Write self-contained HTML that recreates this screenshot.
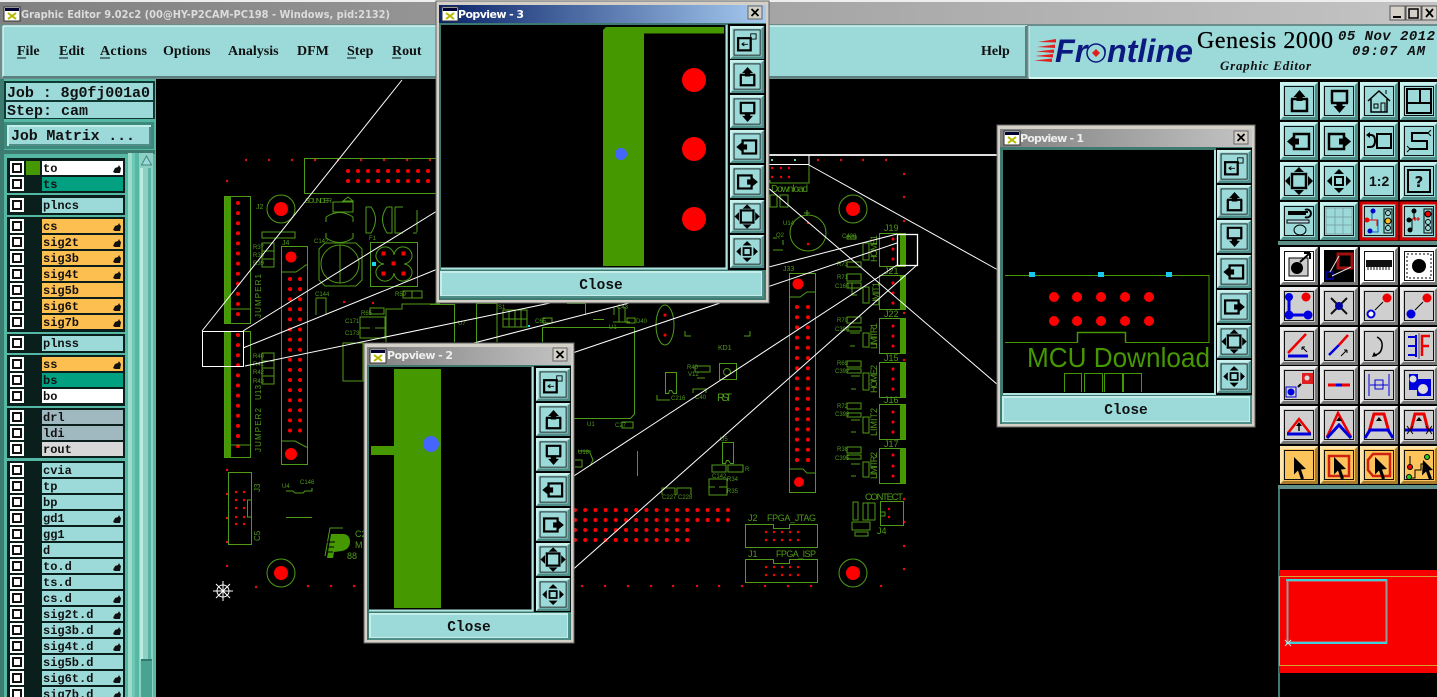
<!DOCTYPE html>
<html><head><meta charset="utf-8"><title>Graphic Editor</title>
<style>
html,body{margin:0;padding:0;background:#000;overflow:hidden;width:1437px;height:697px}
svg{display:block}
.m{font:bold 14px "Liberation Serif",serif;fill:#111}
.l{font:bold 12px "Liberation Mono",monospace;fill:#111}
.j{font:bold 15px "Liberation Mono",monospace;fill:#111}
.c{font:bold 14.5px "Liberation Mono",monospace;fill:#111}
.t{font:bold 11px "DejaVu Sans",sans-serif}
.g{font:8px "Liberation Sans",sans-serif;fill:#4f9a18}
.o{fill:none;stroke:#4f9a18;stroke-width:1}
</style></head><body>
<svg width="1437" height="697" viewBox="0 0 1437 697" xmlns="http://www.w3.org/2000/svg">
<defs>
<linearGradient id="tg" x1="0" x2="1" y1="0" y2="0"><stop offset="0" stop-color="#808080"/><stop offset="1" stop-color="#c4c4c4"/></linearGradient>
<linearGradient id="tb" x1="0" x2="1" y1="0" y2="0"><stop offset="0" stop-color="#0a246a"/><stop offset="1" stop-color="#a6caf0"/></linearGradient>
<g id="bt"><rect width="38" height="38" fill="#4f8d88"/><path d="M0 0H38L35 3H3V35L0 38Z" fill="#c9f2ee"/><rect x="3" y="3" width="32" height="32" fill="#9cdada"/><rect x="4.500" y="4.500" width="29" height="29" fill="none" stroke="#111"/></g>
<g id="gb"><rect width="38" height="38" fill="#777"/><path d="M0 0H38L35 3H3V35L0 38Z" fill="#eee"/><rect x="3" y="3" width="32" height="32" fill="#cfcfcf"/><rect x="4.500" y="4.500" width="29" height="29" fill="none" stroke="#111"/></g>
<g id="ob"><rect width="38" height="38" fill="#a87c2c"/><path d="M0 0H38L35 3H3V35L0 38Z" fill="#ffe6a8"/><rect x="3" y="3" width="32" height="32" fill="#fcc45a"/><rect x="4.500" y="4.500" width="29" height="29" fill="none" stroke="#111"/></g>
<g id="wb"><rect width="38" height="38" fill="#777"/><path d="M0 0H38L35 3H3V35L0 38Z" fill="#fff"/><rect x="3" y="3" width="32" height="32" fill="#fff"/><rect x="4.500" y="4.500" width="29" height="29" fill="none" stroke="#111"/></g>
<g id="iu"><path d="M12 17v12h15V17" fill="none" stroke="#000" stroke-width="2.500"/><path d="M11 17h17" stroke="#000" stroke-width="2.500"/><path d="M19.500 8l6 7h-3v4h-6v-4h-3z"/></g>
<g id="id"><path d="M12 21V9h15v12" fill="none" stroke="#000" stroke-width="2.500"/><path d="M11 21h17" stroke="#000" stroke-width="2.500"/><path d="M19.500 31l-6-7h3v-4h6v4h3z"/></g>
<g id="il"><rect x="14" y="12" width="15" height="15" fill="none" stroke="#000" stroke-width="2.500"/><path d="M7 19.500l7-6v3h5v6h-5v3z"/></g>
<g id="ir"><rect x="9" y="12" width="15" height="15" fill="none" stroke="#000" stroke-width="2.500"/><path d="M31 19.500l-7-6v3h-5v6h5v3z"/></g>
<g id="if"><rect x="12" y="12" width="14" height="14" fill="none" stroke="#000" stroke-width="2.500"/><path d="M19 5l5 5H14zM19 33l5-5H14zM5 19l5-5v10zM33 19l-5-5v10z"/></g>
<g id="ic"><rect x="15" y="15" width="8" height="8" fill="none" stroke="#000" stroke-width="2"/><path d="M19 7l5 5H14zM19 31l5-5H14zM7 19l5-5v10zM31 19l-5-5v10z"/></g>
<g id="ip"><rect x="9" y="14" width="14" height="14" fill="none" stroke="#000" stroke-width="2.500"/><rect x="23" y="9" width="6" height="6" fill="none" stroke="#000"/><path d="M13 21h7M13 21l3-2M13 21l3 2" stroke="#000" fill="none"/></g>
<g id="hand"><path d="M0 7l2-4 3-1 1-2 1 2 1 1-1 5H2z" fill="#111"/></g>
<g id="ti"><rect width="16" height="14" fill="#fff" stroke="#333"/><rect x="1" y="1" width="14" height="3" fill="#003"/><path d="M4 6l8 6M12 6l-8 6" stroke="#b8b800" stroke-width="2"/></g>
<g id="cl"><rect width="14" height="13" fill="#d4d0c8" stroke="#666"/><path d="M3.500 3l7 7M10.500 3l-7 7" stroke="#000" stroke-width="1.800"/></g>
</defs>

<!-- canvas / PCB -->
<rect width="1437" height="697" fill="#000"/>
<g id="pcb">
<!-- border dots -->
<g stroke="#e01010" stroke-width="2.400" stroke-linecap="round">
<path d="M246 160h.1M269 160h.1M292 160h.1M315 160h.1M338 160h.1M361 160h.1M384 160h.1M407 160h.1M430 160h.1M818 160h.1M841 160h.1M863 160h.1M886 160h.1M904 174h.1M904 197h.1M904 221h.1M904 313h.1M904 360h.1M904 499h.1M904 522h.1M904 546h.1M904 569h.1M227 181h.1M227 470h.1M227 494h.1M227 518h.1M227 542h.1M227 566h.1M256 587h.1M308 586h.1M331 586h.1M354 586h.1M582 586h.1M605 586h.1M628 586h.1M651 586h.1M673 586h.1M697 586h.1M719 586h.1M742 586h.1M765 586h.1M788 586h.1M811 586h.1M881 586h.1M344 302h.1M373 303h.1"/>
</g>
<!-- top connector -->
<rect class="o" x="304.500" y="158.500" width="176" height="35"/>
<g stroke="#f00" stroke-width="4" stroke-linecap="round" fill="none">
<path d="M348 171H432M348 181H432" stroke-dasharray="0 10"/>
<path d="M238 335V451" stroke-dasharray="0 10.100"/>
<path d="M238 203V316" stroke-dasharray="0 10.100"/>
<path d="M290 279V432M300 279V432" stroke-dasharray="0 10.100"/>
<path d="M797 307V460M808 307V460" stroke-dasharray="0 10.200"/>
<path d="M575 510H730M575 520H730M575 530H690M575 540H690" stroke-dasharray="0 10.200"/>
</g>
<!-- left connectors -->
<rect x="224" y="196" width="7" height="127" fill="#459800"/><rect x="224" y="331" width="7" height="127" fill="#459800"/>
<rect class="o" x="224.500" y="196.500" width="26" height="127"/><rect class="o" x="224.500" y="331.500" width="26" height="126"/>
<path class="o" d="M231 309H250M231 445H250"/>
<rect class="o" x="281.500" y="246.500" width="26" height="218"/><path class="o" d="M281 272h15l10-7h2M281 441h14l11 6h2"/>
<circle cx="291" cy="257" r="5.500" fill="#f00"/><circle cx="291" cy="454" r="6" fill="#f00"/>
<!-- big mounting holes -->
<g fill="none" stroke="#4f9a18"><circle cx="281" cy="209" r="14"/><circle cx="281" cy="573" r="14"/><circle cx="853" cy="209" r="14"/><circle cx="853" cy="573" r="14"/></g>
<g fill="#f00"><circle cx="281" cy="209" r="7"/><circle cx="281" cy="573" r="7"/><circle cx="853" cy="209" r="7"/><circle cx="853" cy="573" r="7"/></g>
<!-- parts near connectors -->
<g class="o">
<rect x="262" y="243" width="12" height="24"/><path d="M262 251h12M262 259h12"/>
<rect x="262" y="353" width="12" height="31"/><path d="M262 361h12M262 368h12M262 376h12"/>
<rect x="262" y="232" width="33" height="6"/>
<path d="M333 202h20v10h-20zM344 202v-2M343 201l5-4 5 4z"/>
<path d="M326 217q14-9 27 0M326 238q14 9 27 0M326 217v5M353 217v5M326 233v5M353 233v5"/>
<path d="M366 207h5q9 12 0 26h-5zM392 207h-5q-9 12 0 26h5zM395 207h8M395 207v26h8M417 210v22M413 233h4"/>
<path d="M325 243h31l6 6v31l-6 6h-31l-6-6v-31z"/><circle cx="340" cy="264" r="19"/><path d="M340 245v38"/>
<rect x="370.500" y="242.500" width="47" height="44"/>
<path d="M384 247a9 9 0 0 1 10 8 9 9 0 0 1 10-8 9 9 0 0 1 8 10 9 9 0 0 1-8 7 9 9 0 0 1 8 7 9 9 0 0 1-8 10 9 9 0 0 1-10-8 9 9 0 0 1-10 8 9 9 0 0 1-8-10 9 9 0 0 1 8-7 9 9 0 0 1-8-7 9 9 0 0 1 8-10z"/>
<path d="M316 298h10v17M316 298v17"/>
<path d="M403 291h19v7h-19zM412 291v7"/>
<rect x="370" y="308" width="14" height="6"/>
<rect x="360" y="317" width="25" height="21"/><path d="M360 328h10M375 328h10"/>
<path d="M386 342V309H402V304H440"/>
<rect x="343" y="343" width="20" height="38"/>
<path d="M430 304.500H454.500V342"/>
<path d="M476.500 342V303.500H497V342"/>
<rect x="503" y="310" width="24" height="17"/><path d="M503 319h24M509 310v17M515 310v17M521 310v17"/>
<rect x="543" y="318" width="9" height="5"/>
<path d="M567 303.500H585.500V315M593 319.500H604M614 307v8M619 307v15M625 307v15M613 322h17"/>
<rect x="627" y="318" width="8" height="5"/>
<path d="M542.500 342V327.500H634.500V414l-4 4.500H542"/>
<ellipse cx="665" cy="325" rx="9" ry="20"/>
<path d="M685 331v5h6M750 331v5h-6"/>
<rect x="719.500" y="363.500" width="17" height="16"/><circle cx="727" cy="372" r="3.500"/>
<path d="M665.500 372.500h11v21h-3l-2-3h-2l-1 3h-3z"/><path d="M657 395v5h13"/>
<rect x="695" y="366" width="15" height="6"/><path d="M693 393v-4h13v4M697 378h8"/>
<rect x="622" y="422" width="11" height="6"/>
<path d="M637.500 451v25M578 451h12v2l3 7-3 6M575 460h7v7h-7"/>
<path d="M722.500 442.500h11v21h-3l-2-3h-2l-1 3h-3z"/><rect x="712" y="465" width="14" height="7"/><rect x="728" y="465" width="15" height="7"/><path d="M709 479h18v16h-18zM709 487h6M719 487h8"/>
<path d="M662 495v-7h13v7M677 495v-7h14v7"/>
<rect x="228.500" y="472.500" width="23" height="72"/><path d="M251.500 500h-4v17h4"/>
<path d="M286 517.500h26M286 491h7l2 2h8l2-2h7v-3"/>
<!-- right side parts -->
<path d="M770 183h39v-19M770 180v3"/>
<rect x="770" y="195" width="7" height="12"/><rect x="780" y="195" width="8" height="12"/>
<circle cx="808" cy="233" r="18"/><path d="M804 213h6M807 210v6"/>
<path d="M773 238h4M783 240v5M773 250h10"/>
<rect x="789.500" y="273.500" width="26" height="219"/><path d="M789 297h11l7-5h9M789 469h14l4 4h9"/>
<rect x="847" y="236" width="9" height="3"/><rect x="847" y="262" width="14" height="5"/><rect x="847" y="274" width="14" height="7"/><rect x="847" y="283" width="14" height="5"/>
<rect x="863" y="243" width="6" height="17"/><rect x="863" y="287" width="6" height="16"/>
<rect x="847" y="317" width="14" height="6"/><rect x="847" y="327" width="14" height="4"/><rect x="863" y="333" width="6" height="14"/>
<rect x="847" y="361" width="14" height="6"/><rect x="847" y="369" width="14" height="4"/><rect x="863" y="373" width="6" height="17"/>
<rect x="847" y="403" width="14" height="6"/><rect x="847" y="413" width="14" height="4"/><rect x="863" y="417" width="6" height="16"/>
<rect x="847" y="447" width="14" height="6"/><rect x="847" y="455" width="14" height="4"/><rect x="863" y="462" width="6" height="15"/>
<path d="M850 333h10M850 346h5M851 376h9M851 389h5M851 420h9M851 432h5M851 464h9M851 476h5M852 283v12h5"/>
<rect x="880.500" y="501.500" width="23" height="24"/><path d="M881 512h4v4h-4"/>
<rect x="853" y="502" width="5" height="18"/><rect x="863" y="503" width="5" height="17"/><rect x="868" y="503" width="7" height="17"/>
<rect x="852" y="522" width="18" height="8"/><rect x="855" y="532" width="13" height="4"/>
<path d="M745.500 524.500h28v4h16v-4h28v23h-72z"/><path d="M745.500 559.500h28v4h16v-4h28v23h-72z"/>
</g>
<!-- right connectors -->
<g><rect x="900" y="233" width="6" height="34" fill="#459800"/><rect x="900" y="275" width="6" height="34" fill="#459800"/><rect x="900" y="318" width="6" height="35" fill="#459800"/><rect x="900" y="362" width="6" height="35" fill="#459800"/><rect x="900" y="404" width="6" height="35" fill="#459800"/><rect x="900" y="448" width="6" height="35" fill="#459800"/></g>
<g class="o"><rect x="879.500" y="233.500" width="26" height="33"/><rect x="879.500" y="275.500" width="26" height="34"/><rect x="879.500" y="318.500" width="26" height="35"/><rect x="879.500" y="362.500" width="26" height="35"/><rect x="879.500" y="404.500" width="26" height="35"/><rect x="879.500" y="448.500" width="26" height="35"/></g>
<g stroke="#f00" stroke-width="3" stroke-linecap="round"><path d="M893 239v.1M893 249v.1M893 259v.1M893 283v.1M893 293v.1M893 303v.1M893 326v.1M893 336v.1M893 346v.1M893 369v.1M893 379v.1M893 389v.1M893 412v.1M893 422v.1M893 432v.1M893 455v.1M893 466v.1M893 476v.1M665 315v.1M665 335v.1"/></g>
<g stroke="#f00" stroke-width="2.400" stroke-linecap="round"><path d="M236 492v.1M244 492v.1M236 500v.1M244 500v.1M236 508v.1M244 508v.1M236 517v.1M244 517v.1M236 524v.1M244 524v.1M772 168v.1M781 168v.1M789 168v.1M772 177v.1M781 177v.1M789 177v.1M808 223v.1M808 244v.1M766 532v.1M774 532v.1M782 532v.1M790 532v.1M798 532v.1M766 540v.1M774 540v.1M782 540v.1M790 540v.1M798 540v.1M766 567v.1M774 567v.1M782 567v.1M790 567v.1M798 567v.1M766 575v.1M774 575v.1M782 575v.1M790 575v.1M798 575v.1M889 509v.1M889 517v.1"/></g>
<circle cx="798" cy="284" r="5.500" fill="#f00"/><circle cx="799" cy="482" r="5" fill="#f00"/>
<rect x="372" y="262" width="4" height="4" fill="#19d8ee"/><rect x="528" y="325" width="2" height="2" fill="#19d8ee"/>
<rect x="771" y="159" width="2" height="2" fill="#5fd8a0"/><rect x="794" y="159" width="2" height="2" fill="#5fd8a0"/>
<g fill="#f00"><rect x="381.500" y="251.500" width="4" height="4"/><rect x="401.500" y="251.500" width="4" height="4"/><rect x="391.500" y="261.500" width="4" height="4"/><rect x="381.500" y="271.500" width="4" height="4"/><rect x="401.500" y="271.500" width="4" height="4"/></g>
<!-- labels -->
<g class="g">
<text x="771" y="192" style="font-size:10px" textLength="37">Download</text>
<text x="884" y="231" style="font-size:9px">J19</text><text x="884" y="274" style="font-size:9px">J21</text><text x="884" y="317" style="font-size:9px">J22</text><text x="884" y="361" style="font-size:9px">J15</text><text x="884" y="403" style="font-size:9px">J16</text><text x="884" y="447" style="font-size:9px">J17</text>
<text x="717" y="401" style="font-size:11px" textLength="15">RST</text>
<text x="718" y="350" style="font-size:7px">KD1</text>
<text x="865" y="500" style="font-size:9.500px" textLength="38">CONTECT</text>
<text x="877" y="534" style="font-size:9px">J4</text>
<text x="748" y="521" style="font-size:9px">J2</text><text x="767" y="521" style="font-size:9px" textLength="49">FPGA_JTAG</text>
<text x="748" y="557" style="font-size:9px">J1</text><text x="776" y="557" style="font-size:9px" textLength="40">FPGA_ISP</text>
<text x="783" y="271" style="font-size:7px">J33</text>
<text x="282" y="245" style="font-size:7px">J4</text>
<text x="355" y="537" style="font-size:9px">C2</text><text x="355" y="548" style="font-size:9px">M</text><text x="347" y="559" style="font-size:9px">88</text>
<text x="842" y="238" style="font-size:6px">C428</text><text x="837" y="266" style="font-size:6px">R73</text>
<text x="837" y="279" style="font-size:6px">R71</text><text x="835" y="288" style="font-size:6px">C160</text><text x="837" y="322" style="font-size:6px">R70</text><text x="835" y="331" style="font-size:6px">C394</text><text x="837" y="365" style="font-size:6px">R69</text><text x="835" y="373" style="font-size:6px">C392</text><text x="837" y="408" style="font-size:6px">R72</text><text x="835" y="416" style="font-size:6px">C393</text><text x="837" y="451" style="font-size:6px">R38</text><text x="835" y="460" style="font-size:6px">C395</text>
<text x="315" y="296" style="font-size:6px">C144</text><text x="345" y="323" style="font-size:6px">C171</text><text x="345" y="335" style="font-size:6px">C173</text><text x="361" y="315" style="font-size:6px">R65</text><text x="369" y="240" style="font-size:6px">F1</text><text x="314" y="243" style="font-size:6px">C142</text><text x="256" y="209" style="font-size:7px">J2</text><text x="395" y="296" style="font-size:6px">R59</text>
<text x="253" y="249" style="font-size:6px">R37</text><text x="253" y="257" style="font-size:6px">R38</text><text x="253" y="265" style="font-size:6px">R39</text><text x="253" y="358" style="font-size:6px">R40</text><text x="253" y="366" style="font-size:6px">R41</text><text x="253" y="374" style="font-size:6px">R42</text><text x="253" y="383" style="font-size:6px">R43</text>
<text x="300" y="484" style="font-size:6px">C146</text><text x="282" y="488" style="font-size:6px">U4</text>
<text x="458" y="325" style="font-size:6px">U7</text><text x="498" y="309" style="font-size:6px">S1</text><text x="535" y="323" style="font-size:6px">C65</text><text x="617" y="309" style="font-size:6px">C43</text><text x="636" y="323" style="font-size:6px">D40</text><text x="609" y="329" style="font-size:6px">U1</text><text x="587" y="426" style="font-size:6px">U1</text><text x="615" y="427" style="font-size:6px">C27</text>
<text x="671" y="400" style="font-size:6px">C216</text><text x="687" y="369" style="font-size:6px">R40</text><text x="688" y="376" style="font-size:6px">V12</text><text x="695" y="399" style="font-size:6px">C40</text>
<text x="578" y="454" style="font-size:6px">U18</text><text x="720" y="441" style="font-size:6px">U5</text><text x="712" y="478" style="font-size:6px">C142</text><text x="745" y="471" style="font-size:6px">R</text><text x="727" y="481" style="font-size:6px">R34</text><text x="727" y="493" style="font-size:6px">R35</text><text x="662" y="499" style="font-size:6px">C227</text><text x="678" y="499" style="font-size:6px">C228</text>
<text x="783" y="225" style="font-size:6px">U14</text><text x="776" y="237" style="font-size:6px">Q2</text>
<text x="305" y="203" style="font-size:7px" textLength="27">SOUNDER</text>
<text x="0" y="0" transform="translate(877 262) rotate(-90)" style="font-size:9px" textLength="27">HOME1</text>
<text x="0" y="0" transform="translate(879 306) rotate(-90)" style="font-size:9px" textLength="24">LIMIT1</text>
<text x="0" y="0" transform="translate(877 349) rotate(-90)" style="font-size:9px" textLength="26">LIMITR1</text>
<text x="0" y="0" transform="translate(877 393) rotate(-90)" style="font-size:9px" textLength="28">HOME2</text>
<text x="0" y="0" transform="translate(877 436) rotate(-90)" style="font-size:9px" textLength="28">LIMIT2</text>
<text x="0" y="0" transform="translate(877 479) rotate(-90)" style="font-size:9px" textLength="27">LIMITR2</text>
<text x="0" y="0" transform="translate(261 318) rotate(-90)" style="font-size:8px" textLength="44">JUMPER1</text>
<text x="0" y="0" transform="translate(261 452) rotate(-90)" style="font-size:8px" textLength="44">JUMPER2</text>
<text x="0" y="0" transform="translate(261 400) rotate(-90)" style="font-size:8px" textLength="15">U13</text>
<text x="0" y="0" transform="translate(260 492) rotate(-90)" style="font-size:8px">J3</text>
<text x="0" y="0" transform="translate(260 541) rotate(-90)" style="font-size:8px">C5</text>
</g>
<!-- P logo -->
<path d="M325 556l5-28h13" fill="none" stroke="#4f9a18"/>
<path d="M327 558l4-24h13q6 1 6 8t-8 9l-8 1-1 6z" fill="#459800"/>
<path d="M327 542h8M327 547h7M327 552h6" stroke="#000" stroke-width="1"/>
<!-- white zoom lines -->
<g stroke="#fff" fill="none" stroke-width="1">
<rect x="202.500" y="331.500" width="41" height="35"/>
<rect x="897.500" y="234.500" width="20" height="31" stroke-width="1.300"/>
<path d="M202 331L402 80M243 331L445 206M243 348L445 266M245 366L560 301M897 234L400 362M897 243L540 364M897 265L560 485M917 265L560 581"/>
<path d="M745 155H997" stroke-width="1.800"/>
<path d="M745 164.500H809V155M809 165L998 270M745 168L998 385"/>
</g>
<!-- crosshair -->
<g stroke="#fff" fill="none"><circle cx="223" cy="591" r="6"/><path d="M213 591h20M223 581v20M216 584l14 14M230 584l-14 14"/></g>
</g>

<!-- title bar -->
<rect width="1437" height="25" fill="url(#tg)"/><rect width="1437" height="2" fill="#eee"/>
<use href="#ti" x="4" y="7"/>
<text class="t" x="21" y="18" fill="#dcdcdc" textLength="369" lengthAdjust="spacingAndGlyphs">Graphic Editor 9.02c2 (00@HY-P2CAM-PC198 - Windows, pid:2132)</text>
<g fill="#d4d0c8" stroke="#555"><rect x="1390" y="6" width="15" height="14"/><rect x="1406" y="6" width="15" height="14"/><rect x="1422" y="6" width="15" height="14"/></g>
<path d="M1393 16h8v2h-8z" fill="#000"/><rect x="1409" y="9" width="9" height="9" fill="none" stroke="#000" stroke-width="1.500"/><path d="M1426 9l7 8M1433 9l-7 8" stroke="#000" stroke-width="1.800"/>

<!-- menu bar -->
<rect y="24" width="1437" height="55" fill="#6b8d8c"/>
<rect x="3" y="26" width="1024" height="51" fill="#9cdada"/>
<path d="M3 26h1024M3 26v51" stroke="#d4f4f2" stroke-width="1.500" fill="none"/><path d="M3 77h1024M1026 26v51" stroke="#5a7f7d" stroke-width="2" fill="none"/>
<rect x="1029" y="26" width="408" height="52" fill="#9cdada"/><path d="M1029 78h408" stroke="#d4f4f2" stroke-width="2"/><path d="M1029 26v52" stroke="#d4f4f2"/>
<g class="m">
<text class="m" x="17" y="55">File</text><text class="m" x="59" y="55">Edit</text><text class="m" x="100" y="55" textLength="47">Actions</text><text class="m" x="163" y="55">Options</text><text class="m" x="228" y="55">Analysis</text><text class="m" x="297" y="55">DFM</text><text class="m" x="347" y="55">Step</text><text class="m" x="392" y="55">Rout</text><text class="m" x="981" y="55">Help</text>
</g>
<path d="M17 58h9M59 58h9M100 58h10M347 58h9M392 58h9" stroke="#111"/>
<!-- logo -->
<g fill="#e02020"><path d="M1038 42L1056 39V42.500zM1037 47L1055 44.500V48zM1036 51.500L1054 49.500V53zM1035 56L1053 54V57.500zM1034 60.500L1052 58.500V62z"/></g>
<text x="1055" y="62" font-family="Liberation Sans, sans-serif" font-weight="bold" font-style="italic" font-size="32" fill="#0c1a80" textLength="138" lengthAdjust="spacingAndGlyphs">Frontline</text>
<circle cx="1096" cy="53" r="9" fill="#9cdada" stroke="#0c1a80" stroke-width="1.500"/><path d="M1096 49l4 4-4 4-4-4z" fill="#e02020"/>
<text x="1197" y="48" font-family="Liberation Serif, serif" font-size="24" fill="#000" stroke="#000" stroke-width=".25" textLength="136" lengthAdjust="spacing">Genesis 2000</text>
<text x="1220" y="70" font-family="Liberation Serif, serif" font-weight="bold" font-style="italic" font-size="13" fill="#111" textLength="91">Graphic Editor</text>
<text x="1338" y="40" font-family="Liberation Mono, monospace" font-style="italic" font-weight="bold" font-size="14" fill="#111" textLength="97">05 Nov 2012</text>
<text x="1352" y="55" font-family="Liberation Mono, monospace" font-style="italic" font-weight="bold" font-size="14" fill="#111" textLength="73">09:07 AM</text>

<!-- left panel -->
<rect y="79" width="156" height="618" fill="#54b8a4"/>
<rect x="0" y="79" width="4" height="618" fill="#3d7a70"/>
<rect x="4" y="81" width="151" height="38" fill="#0f3a34"/>
<rect x="6" y="83" width="147" height="17" fill="#9cdada"/><rect x="6" y="102" width="147" height="16" fill="#9cdada"/>
<text class="j" x="7" y="97" textLength="143">Job : 8g0fj001a0</text>
<text class="j" x="7" y="115" textLength="81">Step: cam</text>
<rect x="4" y="122" width="150" height="27" fill="#3d8a7c"/><rect x="7" y="125" width="144" height="21" fill="#c4eeea"/><rect x="9" y="127" width="142" height="19" fill="#4f8d88"/><rect x="9" y="127" width="140" height="17" fill="#9cdada"/>
<text class="j" x="11" y="140" textLength="124">Job Matrix ...</text>
<rect x="4" y="150" width="151" height="4" fill="#3d7a70"/>
<!-- scrollbar -->
<rect x="128" y="153" width="4" height="544" fill="#9adccc"/><rect x="132" y="153" width="3" height="544" fill="#6fc8b4"/><rect x="135" y="153" width="4" height="544" fill="#54b8a4"/>
<rect x="139" y="153" width="14" height="544" fill="#8fd0c4"/><rect x="140" y="168" width="3" height="492" fill="#b8ece0"/><rect x="148" y="168" width="3" height="492" fill="#58b4a4"/>
<rect x="141" y="660" width="11" height="37" fill="#48a490"/><path d="M141 660h11" stroke="#2f7a68" stroke-width="2"/>
<path d="M146.500 156l5 9h-10z" fill="#9cdada" stroke="#3d8a7c"/>
<!-- layer groups -->
<g fill="#0a1f1c">
<rect x="7" y="158" width="118" height="35"/><rect x="7" y="195" width="118" height="20"/><rect x="7" y="217" width="118" height="115"/><rect x="7" y="334" width="118" height="19"/><rect x="7" y="355" width="118" height="51"/><rect x="7" y="408" width="118" height="50"/><rect x="7" y="461" width="118" height="236"/>
</g>
<rect x="26" y="161" width="14" height="14" fill="#459800"/>
<!-- rows -->
<g fill="#fff"><rect x="42" y="161" width="81" height="14"/><rect x="42" y="389" width="81" height="14"/></g>
<g fill="#00a080"><rect x="42" y="177" width="81" height="14"/><rect x="42" y="373" width="81" height="14"/></g>
<g fill="#9cdada"><rect x="42" y="198" width="81" height="15"/><rect x="42" y="336" width="81" height="15"/>
<rect x="42" y="463" width="81" height="14"/><rect x="42" y="479" width="81" height="14"/><rect x="42" y="495" width="81" height="14"/><rect x="42" y="511" width="81" height="14"/><rect x="42" y="527" width="81" height="14"/><rect x="42" y="543" width="81" height="14"/><rect x="42" y="559" width="81" height="14"/><rect x="42" y="575" width="81" height="14"/><rect x="42" y="591" width="81" height="14"/><rect x="42" y="607" width="81" height="14"/><rect x="42" y="623" width="81" height="14"/><rect x="42" y="639" width="81" height="14"/><rect x="42" y="655" width="81" height="14"/><rect x="42" y="671" width="81" height="14"/><rect x="42" y="687" width="81" height="14"/></g>
<g fill="#fcbf50"><rect x="42" y="219" width="81" height="14"/><rect x="42" y="235" width="81" height="14"/><rect x="42" y="251" width="81" height="14"/><rect x="42" y="267" width="81" height="14"/><rect x="42" y="283" width="81" height="14"/><rect x="42" y="299" width="81" height="14"/><rect x="42" y="315" width="81" height="14"/><rect x="42" y="357" width="81" height="14"/></g>
<g fill="#a0b8c0"><rect x="42" y="410" width="81" height="14"/><rect x="42" y="426" width="81" height="14"/></g>
<rect x="42" y="442" width="81" height="14" fill="#d8d8d8"/>
<!-- checkboxes -->
<g fill="#111" stroke="#fff" stroke-width="2">
<rect x="11" y="162" width="12" height="12"/><rect x="11" y="178" width="12" height="12"/><rect x="11" y="199" width="12" height="12"/><rect x="11" y="220" width="12" height="12"/><rect x="11" y="236" width="12" height="12"/><rect x="11" y="252" width="12" height="12"/><rect x="11" y="268" width="12" height="12"/><rect x="11" y="284" width="12" height="12"/><rect x="11" y="300" width="12" height="12"/><rect x="11" y="316" width="12" height="12"/><rect x="11" y="337" width="12" height="12"/><rect x="11" y="358" width="12" height="12"/><rect x="11" y="374" width="12" height="12"/><rect x="11" y="390" width="12" height="12"/><rect x="11" y="411" width="12" height="12"/><rect x="11" y="427" width="12" height="12"/><rect x="11" y="443" width="12" height="12"/><rect x="11" y="464" width="12" height="12"/><rect x="11" y="480" width="12" height="12"/><rect x="11" y="496" width="12" height="12"/><rect x="11" y="512" width="12" height="12"/><rect x="11" y="528" width="12" height="12"/><rect x="11" y="544" width="12" height="12"/><rect x="11" y="560" width="12" height="12"/><rect x="11" y="576" width="12" height="12"/><rect x="11" y="592" width="12" height="12"/><rect x="11" y="608" width="12" height="12"/><rect x="11" y="624" width="12" height="12"/><rect x="11" y="640" width="12" height="12"/><rect x="11" y="656" width="12" height="12"/><rect x="11" y="672" width="12" height="12"/><rect x="11" y="688" width="12" height="12"/>
</g>
<g fill="#fff" stroke="#fff" stroke-width="1">
<rect x="14.500" y="165.500" width="5" height="5"/><rect x="14.500" y="181.500" width="5" height="5"/><rect x="14.500" y="202.500" width="5" height="5"/><rect x="14.500" y="223.500" width="5" height="5"/><rect x="14.500" y="239.500" width="5" height="5"/><rect x="14.500" y="255.500" width="5" height="5"/><rect x="14.500" y="271.500" width="5" height="5"/><rect x="14.500" y="287.500" width="5" height="5"/><rect x="14.500" y="303.500" width="5" height="5"/><rect x="14.500" y="319.500" width="5" height="5"/><rect x="14.500" y="340.500" width="5" height="5"/><rect x="14.500" y="361.500" width="5" height="5"/><rect x="14.500" y="377.500" width="5" height="5"/><rect x="14.500" y="393.500" width="5" height="5"/><rect x="14.500" y="414.500" width="5" height="5"/><rect x="14.500" y="430.500" width="5" height="5"/><rect x="14.500" y="446.500" width="5" height="5"/><rect x="14.500" y="467.500" width="5" height="5"/><rect x="14.500" y="483.500" width="5" height="5"/><rect x="14.500" y="499.500" width="5" height="5"/><rect x="14.500" y="515.500" width="5" height="5"/><rect x="14.500" y="531.500" width="5" height="5"/><rect x="14.500" y="547.500" width="5" height="5"/><rect x="14.500" y="563.500" width="5" height="5"/><rect x="14.500" y="579.500" width="5" height="5"/><rect x="14.500" y="595.500" width="5" height="5"/><rect x="14.500" y="611.500" width="5" height="5"/><rect x="14.500" y="627.500" width="5" height="5"/><rect x="14.500" y="643.500" width="5" height="5"/><rect x="14.500" y="659.500" width="5" height="5"/><rect x="14.500" y="675.500" width="5" height="5"/><rect x="14.500" y="691.500" width="5" height="5"/>
</g>
<!-- layer text -->
<g>
<text class="l" x="43" y="172">to</text><text class="l" x="43" y="188">ts</text><text class="l" x="43" y="209">plncs</text><text class="l" x="43" y="230">cs</text><text class="l" x="43" y="246">sig2t</text><text class="l" x="43" y="262">sig3b</text><text class="l" x="43" y="278">sig4t</text><text class="l" x="43" y="294">sig5b</text><text class="l" x="43" y="310">sig6t</text><text class="l" x="43" y="326">sig7b</text><text class="l" x="43" y="347">plnss</text><text class="l" x="43" y="368">ss</text><text class="l" x="43" y="384">bs</text><text class="l" x="43" y="400">bo</text><text class="l" x="43" y="421">drl</text><text class="l" x="43" y="437">ldi</text><text class="l" x="43" y="453">rout</text><text class="l" x="43" y="474">cvia</text><text class="l" x="43" y="490">tp</text><text class="l" x="43" y="506">bp</text><text class="l" x="43" y="522">gd1</text><text class="l" x="43" y="538">gg1</text><text class="l" x="43" y="554">d</text><text class="l" x="43" y="570">to.d</text><text class="l" x="43" y="586">ts.d</text><text class="l" x="43" y="602">cs.d</text><text class="l" x="43" y="618">sig2t.d</text><text class="l" x="43" y="634">sig3b.d</text><text class="l" x="43" y="650">sig4t.d</text><text class="l" x="43" y="666">sig5b.d</text><text class="l" x="43" y="682">sig6t.d</text><text class="l" x="43" y="698">sig7b.d</text>
</g>
<g>
<use href="#hand" x="113" y="165"/><use href="#hand" x="113" y="223"/><use href="#hand" x="113" y="239"/><use href="#hand" x="113" y="255"/><use href="#hand" x="113" y="271"/><use href="#hand" x="113" y="303"/><use href="#hand" x="113" y="319"/><use href="#hand" x="113" y="361"/><use href="#hand" x="113" y="515"/><use href="#hand" x="113" y="563"/><use href="#hand" x="113" y="595"/><use href="#hand" x="113" y="611"/><use href="#hand" x="113" y="627"/><use href="#hand" x="113" y="643"/><use href="#hand" x="113" y="675"/><use href="#hand" x="113" y="691"/>
</g>

<!-- right toolbar -->
<rect x="1277" y="79" width="160" height="410" fill="#000"/>
<rect x="1278" y="241" width="159" height="4" fill="#5f8f88"/>
<rect x="1278" y="485" width="159" height="4" fill="#5f8f88"/><rect x="1278" y="489" width="2" height="208" fill="#3d7a70"/>
<g>
<use href="#bt" x="1280" y="82"/><use href="#bt" x="1320" y="82"/><use href="#bt" x="1360" y="82"/><use href="#bt" x="1400" y="82"/>
<use href="#bt" x="1280" y="122"/><use href="#bt" x="1320" y="122"/><use href="#bt" x="1360" y="122"/><use href="#bt" x="1400" y="122"/>
<use href="#bt" x="1280" y="162"/><use href="#bt" x="1320" y="162"/><use href="#bt" x="1360" y="162"/><use href="#bt" x="1400" y="162"/>
<use href="#bt" x="1280" y="202"/><use href="#bt" x="1320" y="202"/><use href="#bt" x="1360" y="202"/><use href="#bt" x="1400" y="202"/>
<use href="#wb" x="1280" y="247"/><use href="#wb" x="1320" y="247"/><use href="#wb" x="1360" y="247"/><use href="#wb" x="1400" y="247"/>
<use href="#gb" x="1280" y="287"/><use href="#gb" x="1320" y="287"/><use href="#gb" x="1360" y="287"/><use href="#gb" x="1400" y="287"/>
<use href="#gb" x="1280" y="327"/><use href="#gb" x="1320" y="327"/><use href="#gb" x="1360" y="327"/><use href="#gb" x="1400" y="327"/>
<use href="#gb" x="1280" y="366"/><use href="#gb" x="1320" y="366"/><use href="#gb" x="1360" y="366"/><use href="#gb" x="1400" y="366"/>
<use href="#gb" x="1280" y="406"/><use href="#gb" x="1320" y="406"/><use href="#gb" x="1360" y="406"/><use href="#gb" x="1400" y="406"/>
<use href="#ob" x="1280" y="446"/><use href="#ob" x="1320" y="446"/><use href="#ob" x="1360" y="446"/><use href="#ob" x="1400" y="446"/>
</g>
<use href="#iu" x="1280" y="82"/><use href="#id" x="1320" y="82"/>
<g transform="translate(1360 82)" fill="none" stroke="#000"><path d="M8 19L19 9l11 10M11 17v13h16V17" stroke-width="1.500"/><rect x="14" y="22" width="4" height="4"/><path d="M21 30v-9h4v9M26 12v-4"/></g>
<g transform="translate(1400 82)" fill="none" stroke="#000" stroke-width="2"><rect x="7" y="7" width="24" height="24"/><path d="M7 21h24M20 7v14"/></g>
<use href="#il" x="1280" y="122"/><use href="#ir" x="1320" y="122"/>
<g transform="translate(1360 122)"><rect x="17" y="12" width="14" height="14" fill="none" stroke="#000" stroke-width="2"/><path d="M8 13h3q4 0 4 6t-5 6H7" fill="none" stroke="#000" stroke-width="2"/><path d="M6 13l4-3v6z"/></g>
<g transform="translate(1400 122)" fill="none" stroke="#000" stroke-width="2"><path d="M28 11H12v8h15v8H9"/><path d="M31 8l-3 3 3 3M7 24l3 3-3 3" stroke-width="1"/></g>
<use href="#if" x="1280" y="162"/><use href="#ic" x="1320" y="162"/>
<text x="1369" y="186" font-family="Liberation Sans, sans-serif" font-weight="bold" font-size="14" fill="#111">1:2</text>
<g transform="translate(1400 162)"><rect x="8" y="8" width="22" height="22" fill="none" stroke="#000" stroke-width="2"/><text x="19" y="25" text-anchor="middle" font-family="DejaVu Sans, sans-serif" font-weight="bold" font-size="15" fill="#111">?</text></g>
<g transform="translate(1280 202)" stroke="#000" fill="none"><path d="M8 10h20M8 12h18" stroke-width="2"/><path d="M25 8a4 4 0 1 1 0 7" stroke-width="2"/><path d="M7 18h22v3H7z" fill="#bde"/><ellipse cx="20" cy="28" rx="6" ry="5"/></g>
<g transform="translate(1320 202)" stroke="#7fa8a8" fill="none"><rect x="6" y="6" width="26" height="26"/><path d="M15 6v26M23 6v26M6 15h26M6 23h26"/></g>
<g transform="translate(1360 202)"><rect x="1" y="1" width="36" height="36" fill="none" stroke="#d00000" stroke-width="3"/><rect x="24" y="7" width="8" height="24" fill="none" stroke="#000"/><circle cx="28" cy="11" r="2.500" fill="none" stroke="#000"/><circle cx="28" cy="19" r="3" fill="#fcc020" stroke="#000"/><circle cx="28" cy="26" r="2.500" fill="none" stroke="#000"/><path d="M12 10v8h6v12H10M8 18h10" stroke="#06c" fill="none"/><path d="M8 18h9v6" stroke="#e00" fill="none"/><circle cx="13" cy="9" r="2.500" fill="#00c"/><circle cx="7" cy="18" r="2.500" fill="#e00"/><circle cx="10" cy="29" r="2.500" fill="#00c"/></g>
<g transform="translate(1400 202)"><rect x="1" y="1" width="36" height="36" fill="none" stroke="#d00000" stroke-width="3"/><rect x="24" y="7" width="8" height="24" fill="none" stroke="#000"/><circle cx="28" cy="12" r="3" fill="#e00" stroke="#000"/><circle cx="28" cy="20" r="2.500" fill="none" stroke="#000"/><circle cx="28" cy="26" r="2.500" fill="none" stroke="#000"/><path d="M14 10v7h-2v11" stroke="#000" fill="none"/><circle cx="14" cy="9" r="2.500"/><circle cx="9" cy="18" r="2.500"/><circle cx="10" cy="28" r="2.500"/><path d="M12 17h8M15 15v4M18 15v4" stroke="#d00"/></g>
<!-- white row icons -->
<g transform="translate(1280 247)"><rect x="9" y="11" width="19" height="18" fill="#ccc" stroke="#000"/><circle cx="17" cy="21" r="6"/><path d="M20 15l10-9M30 6v6M30 6h-6" stroke="#000" stroke-width="2" fill="none"/></g>
<g transform="translate(1320 247)"><rect x="4" y="3" width="30" height="32" fill="#000"/><rect x="18" y="7" width="14" height="14" fill="none" stroke="#a01010" stroke-width="3"/><rect x="6" y="25" width="7" height="7" fill="none" stroke="#00008c" stroke-width="2"/><path d="M10 25l9-16M12 29l19-9" stroke="#ddd"/></g>
<g transform="translate(1360 247)"><rect x="6" y="13" width="26" height="7" fill="#111"/><path d="M8 20v3M11 20v3M14 20v3M17 20v3M20 20v3M23 20v3M26 20v3M29 20v3" stroke="#111"/></g>
<g transform="translate(1400 247)"><rect x="7" y="7" width="24" height="24" fill="none" stroke="#000" stroke-dasharray="2 2"/><circle cx="19" cy="19" r="7"/></g>
<!-- grey icons -->
<g transform="translate(1280 287)"><path d="M9 10v18h18" stroke="#0000e0" stroke-width="3" fill="none"/><circle cx="9" cy="10" r="4" fill="#0000e0"/><circle cx="9" cy="28" r="4.500" fill="#0000e0"/><circle cx="28" cy="28" r="4.500" fill="#0000e0"/><circle cx="26" cy="10" r="4.500" fill="#e00"/></g>
<g transform="translate(1320 287)"><path d="M11 11l16 16M27 11L11 27" stroke="#111" stroke-width="2"/><circle cx="19" cy="19" r="4" fill="#0000a0"/></g>
<g transform="translate(1360 287)"><circle cx="27" cy="11" r="4.500" fill="#e00"/><circle cx="11" cy="27" r="3.500" fill="#fff" stroke="#00d" stroke-width="2"/><path d="M15 23l8-8" stroke="#000"/></g>
<g transform="translate(1400 287)"><circle cx="27" cy="11" r="4.500" fill="#e00"/><circle cx="11" cy="27" r="4.500" fill="#00d"/><path d="M15 23l8-8" stroke="#000"/></g>
<g transform="translate(1280 327)"><path d="M8 26L26 7" stroke="#e00" stroke-width="2.500"/><path d="M8 29h20" stroke="#00d" stroke-width="3"/><path d="M22 20l5 5M22 20v3M22 20h3" stroke="#000" fill="none"/></g>
<g transform="translate(1320 327)"><path d="M9 28L19 18" stroke="#00d" stroke-width="2.500"/><path d="M19 18l9-10" stroke="#e00" stroke-width="2.500"/><path d="M21 29l6-6M27 23h-3M27 23v3" stroke="#000" fill="none"/></g>
<g transform="translate(1360 327)"><path d="M17 10q6 3 5 10t-7 8" fill="none" stroke="#000" stroke-width="1.500"/><path d="M14 25l3 4-5 1z"/></g>
<g transform="translate(1400 327)"><path d="M8 10h8M8 19h8M8 28h8M16 8v22" stroke="#00d" stroke-width="2" fill="none"/><path d="M19 6v26" stroke="#555"/><path d="M30 9h-8v20M22 19h7" stroke="#e00" stroke-width="2.500" fill="none"/></g>
<g transform="translate(1280 366)"><rect x="22" y="7" width="11" height="11" fill="#e02020"/><circle cx="27" cy="12" r="2.500" fill="#ddd"/><rect x="6" y="21" width="10" height="10" fill="none" stroke="#00d"/><circle cx="11" cy="26" r="3.500" fill="#00d"/><path d="M18 21l3-3" stroke="#000" stroke-width="2"/></g>
<g transform="translate(1320 366)"><path d="M8 19h22" stroke="#e00" stroke-width="3"/><path d="M16 19h6" stroke="#00d" stroke-width="3"/></g>
<g transform="translate(1360 366)"><path d="M9 8v22M29 8v22M10 19h18" stroke="#00d" fill="none"/><rect x="15" y="14" width="8" height="9" fill="none" stroke="#00d"/></g>
<g transform="translate(1400 366)"><path d="M9 8h9v5h13v17H17v-6H9z" fill="#00d"/><circle cx="13" cy="13" r="3.500" fill="#ddd"/><circle cx="23" cy="23" r="5" fill="#ddd"/></g>
<g transform="translate(1280 406)"><path d="M8 27L19 13l11 14" fill="none" stroke="#e00" stroke-width="2.500"/><path d="M7 28h24" stroke="#00d" stroke-width="3"/><path d="M19 25v-8" stroke="#000" stroke-width="1.500"/><path d="M16 20l3-4 3 4z"/></g>
<g transform="translate(1320 406)"><path d="M7 31L18 7l13 24" fill="none" stroke="#e00" stroke-width="2.500"/><path d="M7 32l12-13 12 13" fill="none" stroke="#00d" stroke-width="3"/><path d="M19 18v-6M16 15l3-4 3 4z"/></g>
<g transform="translate(1360 406)"><path d="M9 26L14 8h10l5 18" fill="none" stroke="#e00" stroke-width="3"/><path d="M5 32l5-8h18l5 8" fill="none" stroke="#00d" stroke-width="3"/><path d="M19 20v-7M16 15l3-4 3 4z"/></g>
<g transform="translate(1400 406)"><path d="M11 24L15 8h9l4 16" fill="none" stroke="#e00" stroke-width="3"/><path d="M5 24h28" stroke="#00d" stroke-width="3"/><path d="M7 20l6 8M13 20l-6 8M26 20l6 8M32 20l-6 8" stroke="#000"/><path d="M19 20v-6M16 15l3-4 3 4z"/></g>
<!-- orange icons -->
<path d="M1294 457l12 12-5 .5 3 9-3 1-3-9-4 4z"/>
<g><rect x="1329" y="456" width="20" height="20" fill="none" stroke="#d02010" stroke-width="2.500"/><path d="M1334 457l12 12-5 .5 3 9-3 1-3-9-4 4z"/></g>
<g><path d="M1373 454h17v22h-17l-5-6v-10z" fill="none" stroke="#d02010" stroke-width="2.500"/><path d="M1375 457l12 12-5 .5 3 9-3 1-3-9-4 4z"/></g>
<g fill="none" stroke="#000"><path d="M1410 456v11M1410 478h5v-8h6v-6h5"/><circle cx="1410" cy="467" r="2.500" fill="#e00"/><circle cx="1409" cy="477" r="2.500" fill="#2c2"/><circle cx="1427" cy="457" r="2.500" fill="#2c2"/></g>
<path d="M1423 460l10 10-4 .5 3 8-3 1-3-8-4 4z"/>
<!-- overview -->
<rect x="1279" y="570" width="158" height="103" fill="#f80000"/>
<path d="M1437 576.500H1279.500V665.500H1437" fill="none" stroke="#d8a030"/>
<rect x="1287.500" y="580.500" width="99" height="62" fill="none" stroke="#999" stroke-width="2"/>
<path d="M1286 580h101M1286 643h101" stroke="#40d0d8" stroke-width="2"/>
<path d="M1285 640l6 6M1291 640l-6 6" stroke="#ddd"/>

<!-- Popview 3 -->
<g>
<rect x="436" y="1" width="333" height="302" fill="#d4d0c8" stroke="#666"/>
<rect x="439" y="5" width="327" height="18" fill="url(#tb)"/>
<use href="#ti" x="442" y="7"/>
<text class="t" x="458" y="18" fill="#fff" textLength="66">Popview - 3</text>
<use href="#cl" x="748" y="6"/>
<rect x="439" y="23" width="327" height="277" fill="#3f7a70"/>
<rect x="441" y="25" width="285" height="244" fill="#000"/>
<path d="M441 268.500h285.500V25" stroke="#b0e4e0" stroke-width="2" fill="none"/>
<rect x="728" y="24" width="38" height="246" fill="#000"/>
<path d="M606 27h118v6.500h-80v232.500h-41V30z" fill="#459800"/>
<g fill="#f00"><circle cx="694" cy="80" r="12"/><circle cx="694" cy="149" r="12"/><circle cx="694" cy="219" r="12"/></g>
<circle cx="621" cy="154" r="6" fill="#4466ff"/>
<use href="#bt" transform="translate(730 26) scale(.9 .87)"/><use href="#ip" transform="translate(730 26) scale(.9 .87)"/>
<use href="#bt" transform="translate(730 60) scale(.9 .87)"/><use href="#iu" transform="translate(730 60) scale(.9 .87)"/>
<use href="#bt" transform="translate(730 95) scale(.9 .87)"/><use href="#id" transform="translate(730 95) scale(.9 .87)"/>
<use href="#bt" transform="translate(730 130) scale(.9 .87)"/><use href="#il" transform="translate(730 130) scale(.9 .87)"/>
<use href="#bt" transform="translate(730 165) scale(.9 .87)"/><use href="#ir" transform="translate(730 165) scale(.9 .87)"/>
<use href="#bt" transform="translate(730 200) scale(.9 .87)"/><use href="#if" transform="translate(730 200) scale(.9 .87)"/>
<use href="#bt" transform="translate(730 235) scale(.9 .87)"/><use href="#ic" transform="translate(730 235) scale(.9 .87)"/>
<rect x="440" y="271" width="324" height="27" fill="#4f8d88"/><rect x="440" y="271" width="322" height="25" fill="#c4eeea"/><rect x="442" y="273" width="319" height="22" fill="#9cdada"/>
<text class="c" x="601" y="289" text-anchor="middle">Close</text>
</g>

<!-- Popview 2 -->
<g>
<rect x="364" y="343" width="210" height="300" fill="#d4d0c8" stroke="#666"/>
<rect x="367" y="347" width="204" height="18" fill="url(#tg)"/>
<use href="#ti" x="370" y="349"/>
<text class="t" x="387" y="359" fill="#eee" textLength="66">Popview - 2</text>
<use href="#cl" x="553" y="348"/>
<rect x="367" y="365" width="204" height="275" fill="#3f7a70"/>
<rect x="369" y="367" width="164" height="244" fill="#000"/>
<path d="M369 610.500h163.500V367" stroke="#b0e4e0" stroke-width="2" fill="none"/>
<rect x="534" y="366" width="37" height="246" fill="#000"/>
<path d="M394 369h47v239h-47V455h-23v-9h23z" fill="#459800"/>
<circle cx="431" cy="444" r="8" fill="#4466ff"/>
<use href="#bt" transform="translate(536 368) scale(.9 .87)"/><use href="#ip" transform="translate(536 368) scale(.9 .87)"/>
<use href="#bt" transform="translate(536 403) scale(.9 .87)"/><use href="#iu" transform="translate(536 403) scale(.9 .87)"/>
<use href="#bt" transform="translate(536 438) scale(.9 .87)"/><use href="#id" transform="translate(536 438) scale(.9 .87)"/>
<use href="#bt" transform="translate(536 473) scale(.9 .87)"/><use href="#il" transform="translate(536 473) scale(.9 .87)"/>
<use href="#bt" transform="translate(536 508) scale(.9 .87)"/><use href="#ir" transform="translate(536 508) scale(.9 .87)"/>
<use href="#bt" transform="translate(536 543) scale(.9 .87)"/><use href="#if" transform="translate(536 543) scale(.9 .87)"/>
<use href="#bt" transform="translate(536 578) scale(.9 .87)"/><use href="#ic" transform="translate(536 578) scale(.9 .87)"/>
<rect x="369" y="613" width="201" height="27" fill="#4f8d88"/><rect x="369" y="613" width="199" height="25" fill="#c4eeea"/><rect x="371" y="615" width="196" height="22" fill="#9cdada"/>
<text class="c" x="469" y="631" text-anchor="middle">Close</text>
</g>

<!-- Popview 1 -->
<g>
<rect x="997" y="125" width="258" height="302" fill="#d4d0c8" stroke="#666"/>
<rect x="1000" y="129" width="252" height="18" fill="url(#tg)"/>
<use href="#ti" x="1004" y="131"/>
<text class="t" x="1020" y="142" fill="#eee" textLength="64">Popview - 1</text>
<use href="#cl" x="1234" y="131"/>
<rect x="1000" y="147" width="252" height="277" fill="#3f7a70"/>
<rect x="1003" y="150" width="212" height="244" fill="#000"/>
<path d="M1003 394h212V150" stroke="#b0e4e0" stroke-width="2" fill="none"/>
<rect x="1216" y="148" width="36" height="247" fill="#000"/>
<path d="M1005 275.500H1209V342.500H1125.500V332.500H1077.500V342.500H1005" fill="none" stroke="#459800" stroke-width="1"/>
<path d="M1077.500 342V332.500H1125.500V342" fill="none" stroke="#459800" stroke-width="1.500"/>
<g fill="#19c8ee"><rect x="1029" y="272" width="6" height="5"/><rect x="1098" y="272" width="6" height="5"/><rect x="1166" y="272" width="6" height="5"/></g>
<g fill="#f00"><circle cx="1054" cy="297" r="5"/><circle cx="1077" cy="297" r="5"/><circle cx="1101" cy="297" r="5"/><circle cx="1125" cy="297" r="5"/><circle cx="1149" cy="297" r="5"/><circle cx="1054" cy="321" r="5"/><circle cx="1077" cy="321" r="5"/><circle cx="1101" cy="321" r="5"/><circle cx="1125" cy="321" r="5"/><circle cx="1149" cy="321" r="5"/></g>
<text x="1027" y="367" font-family="Liberation Sans, sans-serif" font-size="28" fill="#459800" textLength="183" lengthAdjust="spacingAndGlyphs">MCU Download</text>
<path d="M1064.500 392V373.500H1081.500V392M1084.500 392V373.500H1102.500V392M1104.500 392V373.500H1122.500V392M1123.500 392V373.500H1141.500V392" fill="none" stroke="#459800"/>
<use href="#bt" transform="translate(1217 150) scale(.9 .87)"/><use href="#ip" transform="translate(1217 150) scale(.9 .87)"/>
<use href="#bt" transform="translate(1217 185) scale(.9 .87)"/><use href="#iu" transform="translate(1217 185) scale(.9 .87)"/>
<use href="#bt" transform="translate(1217 220) scale(.9 .87)"/><use href="#id" transform="translate(1217 220) scale(.9 .87)"/>
<use href="#bt" transform="translate(1217 255) scale(.9 .87)"/><use href="#il" transform="translate(1217 255) scale(.9 .87)"/>
<use href="#bt" transform="translate(1217 290) scale(.9 .87)"/><use href="#ir" transform="translate(1217 290) scale(.9 .87)"/>
<use href="#bt" transform="translate(1217 325) scale(.9 .87)"/><use href="#if" transform="translate(1217 325) scale(.9 .87)"/>
<use href="#bt" transform="translate(1217 360) scale(.9 .87)"/><use href="#ic" transform="translate(1217 360) scale(.9 .87)"/>
<rect x="1002" y="396" width="250" height="28" fill="#4f8d88"/><rect x="1002" y="396" width="248" height="26" fill="#c4eeea"/><rect x="1004" y="398" width="245" height="23" fill="#9cdada"/>
<text class="c" x="1126" y="414" text-anchor="middle">Close</text>
</g>
</svg>
</body></html>
